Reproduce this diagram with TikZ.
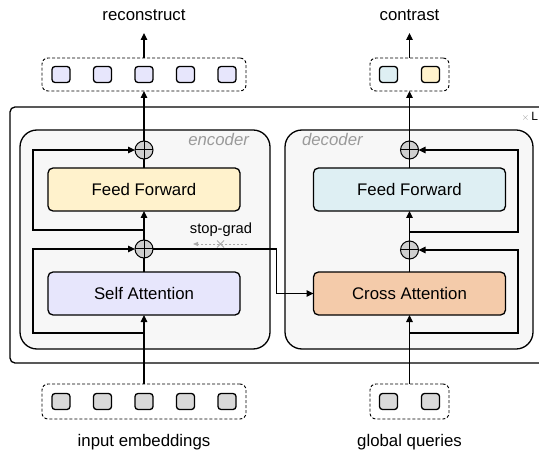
\documentclass[tikz,border=0pt]{standalone}
\usepackage{fontspec}
\setmainfont{Liberation Sans}
\usetikzlibrary{arrows.meta}
\definecolor{blockbg}{HTML}{F7F7F7}
\definecolor{ffenc}{HTML}{FFF2CC}
\definecolor{saenc}{HTML}{E7E6FC}
\definecolor{ffdec}{HTML}{DEEFF3}
\definecolor{cadec}{HTML}{F4CBAA}
\definecolor{tokgray}{HTML}{D9D9D9}
\definecolor{toklav}{HTML}{E7E6FC}
\definecolor{plusgray}{HTML}{CFCFCF}
\definecolor{labgray}{HTML}{9A9A9A}
\definecolor{sggray}{HTML}{AAAAAA}
\begin{document}
\begin{tikzpicture}[x=1bp,y=-1bp,
  every node/.style={inner sep=0pt, outer sep=0pt},
  txt/.style={font=\fontsize{16.8bp}{20bp}\selectfont},
  block/.style={draw, line width=1.3bp, rounded corners=17bp, fill=blockbg},
  layer/.style={draw, line width=1.3bp, rounded corners=5bp, minimum width=192bp, minimum height=43bp, font=\fontsize{16.8bp}{20bp}\selectfont},
  vecbox/.style={draw, line width=0.9bp, rounded corners=6bp, dash pattern=on 3bp off 2bp},
  tok/.style={draw, line width=1.3bp, rounded corners=3bp, minimum width=18bp, minimum height=16bp},
  plus/.style={draw, circle, line width=1bp, fill=plusgray, minimum size=18bp,
    path picture={\draw[line width=1bp] (path picture bounding box.north) -- (path picture bounding box.south)
      (path picture bounding box.west) -- (path picture bounding box.east);}},
  conn/.style={line width=1.1bp},
  arr/.style={line width=1.1bp, -{Triangle[length=7bp,width=6.5bp]}},
]
\useasboundingbox (0,0) rectangle (539,452);
\clip (0,0) rectangle (539,452);

% outer stack box
\node[draw, line width=1.3bp, rounded corners=5bp, minimum width=560bp, minimum height=256bp] (stack) at (290,235) {};
\node[anchor=base east, font=\fontsize{12bp}{14bp}\selectfont] (xl) at (538,121) {\textcolor{labgray}{\fontsize{10bp}{12bp}\selectfont$\times$}\,L};

% encoder and decoder blocks
\node[block, minimum width=250bp, minimum height=219bp] (enc) at (145,239.5) {};
\node[block, minimum width=248bp, minimum height=219bp] (dec) at (409,239.5) {};
\node[anchor=base east, text=labgray, font=\fontsize{16.8bp}{20bp}\selectfont\itshape] (enclab) at (249,146) {encoder};
\node[anchor=base west, text=labgray, font=\fontsize{16.8bp}{20bp}\selectfont\itshape] (declab) at (302,146) {decoder};

% layers
\node[layer, fill=ffenc] (ff1) at (144,189.5) {Feed Forward};
\node[layer, fill=saenc] (sa) at (144,293.5) {Self Attention};
\node[layer, fill=ffdec] (ff2) at (409.5,189.5) {Feed Forward};
\node[layer, fill=cadec] (ca) at (409.5,293.5) {Cross Attention};

% plus nodes
\node[plus] (p1) at (144,249) {};
\node[plus] (p2) at (144,150) {};
\node[plus] (p3) at (409.5,250) {};
\node[plus] (p4) at (409.5,150) {};

% token boxes
\node[vecbox, minimum width=204bp, minimum height=33bp] (rec) at (144,74.5) {};
\node[vecbox, minimum width=79bp, minimum height=33bp] (con) at (409.5,74.5) {};
\node[vecbox, minimum width=204bp, minimum height=35bp] (inp) at (144,401.5) {};
\node[vecbox, minimum width=79bp, minimum height=35bp] (gq) at (409.5,401.5) {};
\foreach \i/\x in {1/61,2/102.5,3/144,4/185.5,5/227}{
  \node[tok, fill=toklav] (r\i) at (\x,74.5) {};
  \node[tok, fill=tokgray] (e\i) at (\x,401.5) {};
}
\node[tok, fill=ffdec] (c1) at (388.5,74.5) {};
\node[tok, fill=ffenc] (c2) at (430.5,74.5) {};
\node[tok, fill=tokgray] (g1) at (388.5,401.5) {};
\node[tok, fill=tokgray] (g2) at (430.5,401.5) {};

% labels
\node[txt, anchor=base] (recTxt) at (144,21) {reconstruct};
\node[txt, anchor=base] (conTxt) at (409.5,21) {contrast};
\node[txt, anchor=base] (inpTxt) at (144,446) {input embeddings};
\node[txt, anchor=base] (gqTxt) at (409.5,446) {global queries};
\coordinate (rectop) at (144,33);
\coordinate (contop) at (409.5,33);

% encoder flow
\draw[arr] (inp.north) -- (sa.south);
\draw[conn] (sa.north) -- (p1.south);
\draw[arr] (p1.north) -- (ff1.south);
\draw[conn] (ff1.north) -- (p2.south);
\draw[arr] (p2.north) -- (rec.south);
\draw[arr] (rec.north) -- (rectop);
\coordinate (eres1) at (144,333);
\coordinate (eres2) at (144,230);
\draw[arr] (eres1) -| (33,249) -- (p1.west);
\draw[arr] (eres2) -| (33,150) -- (p2.west);

% decoder flow
\draw[arr] (gq.north) -- (ca.south);
\draw[conn] (ca.north) -- (p3.south);
\draw[arr] (p3.north) -- (ff2.south);
\draw[conn] (ff2.north) -- (p4.south);
\draw[arr] (p4.north) -- (con.south);
\draw[arr] (con.north) -- (contop);
\coordinate (dres1) at (409.5,333);
\coordinate (dres2) at (409.5,232);
\draw[arr] (dres1) -| (518,250) -- (p3.east);
\draw[arr] (dres2) -| (518,150) -- (p4.east);

% cross connection
\draw[arr] (p1.east) -- (276.5,249) |- (ca.west);

% stop-grad
\node[anchor=base, font=\fontsize{14.7bp}{17bp}\selectfont] (sg) at (221,234) {stop-grad};
\coordinate (sgA) at (247,244);
\coordinate (sgB) at (193,244);
\draw[sggray, line width=0.8bp, dash pattern=on 2.5bp off 1.5bp, -{Triangle[length=5bp,width=4bp]}] (sgA) -- (sgB);
\draw[sggray, line width=0.8bp] (217,240.5) -- (224,247.5) (217,247.5) -- (224,240.5);
\end{tikzpicture}
\end{document}
